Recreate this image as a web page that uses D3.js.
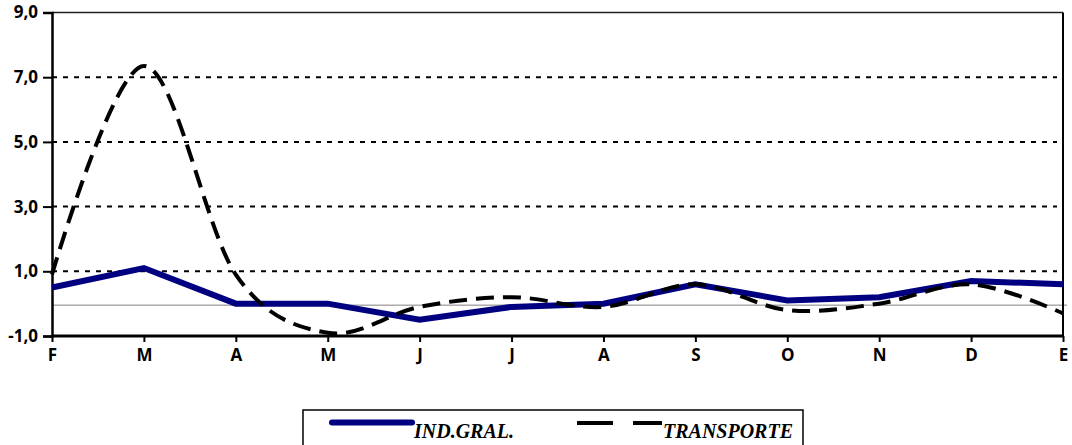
<!DOCTYPE html>
<html>
<head>
<meta charset="utf-8">
<script src="https://cdn.jsdelivr.net/npm/d3@7"></script>
<style>
  body { margin: 0; background: #fff; }
  .axis text { font-family: "Open Sans", sans-serif; font-weight: 700; font-size: 17px; fill: #000; }
</style>
</head>
<body>
<script>
var months = ["F", "M", "A", "M", "J", "J", "A", "S", "O", "N", "D", "E"];
var indGral = [0.5, 1.1, 0.0, 0.0, -0.5, -0.1, 0.0, 0.6, 0.1, 0.2, 0.7, 0.6];
var transporte = [0.9, 7.35, 0.9, -0.9, -0.1, 0.2, -0.1, 0.6, -0.2, 0.0, 0.6, -0.3];
var yTicks = [-1, 1, 3, 5, 7, 9];
var gridTicks = [1, 3, 5, 7];

var width = 1072, height = 445;
var plotLeft = 52, plotRight = 1063, plotTop = 12.5, plotBottom = 336;

var svg = d3.select("body").append("svg")
    .attr("width", width)
    .attr("height", height);

var x = d3.scalePoint()
    .domain(d3.range(months.length))
    .range([plotLeft, plotRight]);

var y = d3.scaleLinear()
    .domain([-1, 9])
    .range([plotBottom, plotTop]);

// dotted grid lines
svg.selectAll("line.grid")
    .data(gridTicks)
    .enter()
    .append("line")
    .attr("class", "grid")
    .attr("x1", plotLeft)
    .attr("x2", plotRight - 6)
    .attr("y1", function(d) { return y(d); })
    .attr("y2", function(d) { return y(d); })
    .attr("stroke", "#000")
    .attr("stroke-width", 2)
    .attr("stroke-dasharray", "5,6");

// zero line
svg.append("line")
    .attr("x1", plotLeft)
    .attr("x2", plotRight + 4)
    .attr("y1", y(0) + 1.5)
    .attr("y2", y(0) + 1.5)
    .attr("stroke", "#808080")
    .attr("stroke-width", 1);

// top and right border
svg.append("line")
    .attr("x1", plotLeft).attr("x2", plotRight)
    .attr("y1", y(9)).attr("y2", y(9))
    .attr("stroke", "#222").attr("stroke-width", 1.5);
svg.append("line")
    .attr("x1", plotRight).attr("x2", plotRight)
    .attr("y1", y(9)).attr("y2", y(-1))
    .attr("stroke", "#000").attr("stroke-width", 2);

// y axis
var yAxis = svg.append("g")
    .attr("class", "axis")
    .attr("transform", "translate(" + plotLeft + ",0)")
    .call(d3.axisLeft(y)
        .tickValues(yTicks)
        .tickSize(9)
        .tickPadding(5)
        .tickFormat(function(d) { return d3.format(".1f")(d).replace(".", ",").replace("\u2212", "-"); }));
yAxis.select(".domain").attr("stroke-width", 2.5);
yAxis.selectAll(".tick line").attr("stroke-width", 2);

// x axis
var xAxis = svg.append("g")
    .attr("class", "axis")
    .attr("transform", "translate(0," + plotBottom + ")")
    .call(d3.axisBottom(x)
        .tickSize(6)
        .tickPadding(7)
        .tickFormat(function(d) { return months[d]; }));
xAxis.select(".domain").attr("stroke-width", 3).attr("d", "M" + plotLeft + ",0H" + plotRight);
xAxis.selectAll(".tick line").attr("stroke-width", 2);

// series
var straight = d3.line()
    .x(function(d, i) { return x(i); })
    .y(function(d) { return y(d); });

var smooth = d3.line()
    .x(function(d, i) { return x(i); })
    .y(function(d) { return y(d); })
    .curve(d3.curveCardinal.tension(0));

svg.append("path")
    .datum(indGral)
    .attr("d", straight)
    .attr("fill", "none")
    .attr("stroke", "#000080")
    .attr("stroke-width", 6);

svg.append("path")
    .datum(transporte)
    .attr("d", smooth)
    .attr("fill", "none")
    .attr("stroke", "#000")
    .attr("stroke-width", 4)
    .attr("stroke-dasharray", "18,9");

// legend
var legend = svg.append("g");
legend.append("rect")
    .attr("x", 303).attr("y", 410)
    .attr("width", 500).attr("height", 40)
    .attr("fill", "#fff")
    .attr("stroke", "#000")
    .attr("stroke-width", 1.5);

legend.append("line")
    .attr("x1", 332).attr("x2", 412)
    .attr("y1", 422.5).attr("y2", 422.5)
    .attr("stroke", "#000080")
    .attr("stroke-width", 6)
    .attr("stroke-linecap", "round");
legend.append("text")
    .attr("x", 414).attr("y", 438)
    .attr("font-family", "'Liberation Serif', 'Times New Roman', serif")
    .attr("font-style", "italic")
    .attr("font-weight", "bold")
    .attr("font-size", 20)
    .text("IND.GRAL.");

legend.append("line")
    .attr("x1", 577).attr("x2", 662)
    .attr("y1", 423).attr("y2", 423)
    .attr("stroke", "#000")
    .attr("stroke-width", 4)
    .attr("stroke-dasharray", "36,20");
legend.append("text")
    .attr("x", 663).attr("y", 438)
    .attr("font-family", "'Liberation Serif', 'Times New Roman', serif")
    .attr("font-style", "italic")
    .attr("font-weight", "bold")
    .attr("font-size", 20)
    .text("TRANSPORTE");
</script>
</body>
</html>
